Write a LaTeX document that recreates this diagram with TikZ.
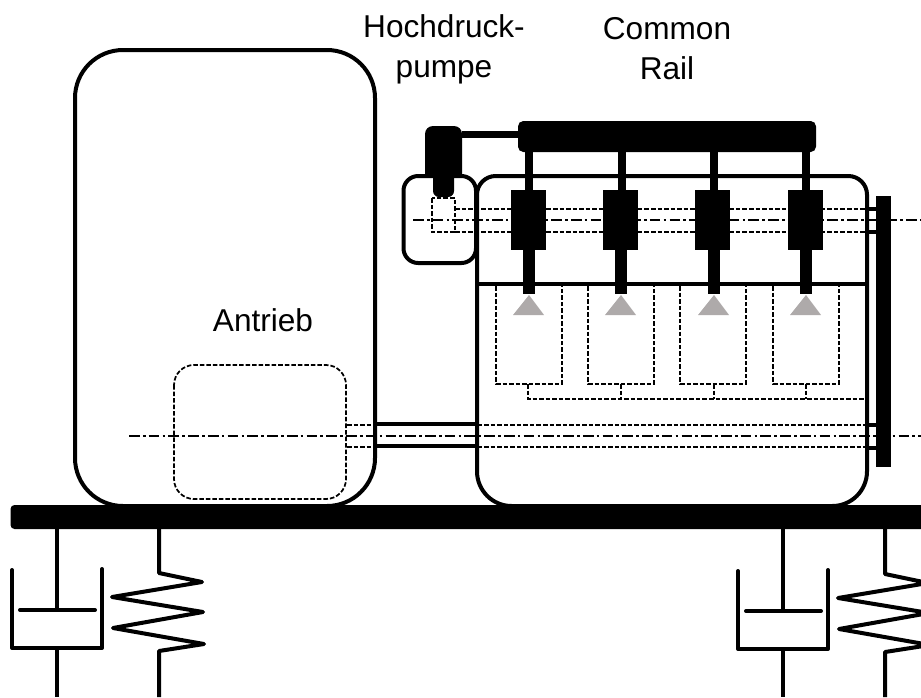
\documentclass[tikz,border=0pt]{standalone}
\usepackage{fontspec}
\setmainfont{Liberation Sans}
\definecolor{nozzle}{HTML}{AEAAAA}
\begin{document}
\begin{tikzpicture}[x=0.75pt,y=-0.75pt,
  wall/.style={line width=3pt},
  pipe/.style={line width=3pt},
  hidden/.style={line width=1.3pt,dash pattern=on 3.4pt off 1.5pt},
  axis/.style={line width=1.3pt,dash pattern=on 8pt off 2.4pt on 2pt off 2.4pt},
  label/.style={font=\fontsize{23.7}{30}\selectfont,align=center}]
\clip (0,0) rectangle (921,697);
\draw (444,49) node[label] (pump){Hochdruck-\\pumpe};
\draw (667,49) node[label] (rail){Common\\Rail};
\draw (263,320) node[label] (drive){Antrieb};
%
\draw [wall,rounded corners=36pt] (75,50) rectangle (375,506);
\draw [hidden,rounded corners=15pt] (174,365) rectangle (346,499);
\draw [wall,rounded corners=11pt] (403.5,176) rectangle (476,263);
\draw [wall] (477,300) [rounded corners=26pt] -- (477,506) -- (867,506) -- (867,300) [rounded corners=14pt] -- (867,176) -- (477,176) -- cycle;
\draw [wall] (477,284) -- (867,284);
%
\draw [hidden] (432,198) rectangle (455,232);
\draw [hidden] (455,209) -- (867,209);
\draw [hidden] (455,232) -- (867,232);
\draw [axis] (413,220) -- (921,220);
\draw [hidden] (347,425) -- (867,425);
\draw [hidden] (347,447) -- (867,447);
\draw [axis] (129,436) -- (921,436);
\draw [wall] (375,424) -- (477,424);
\draw [wall] (375,446) -- (477,446);
\draw [pipe] (867,209) -- (876,209);
\draw [pipe] (867,232) -- (876,232);
\draw [pipe] (867,425) -- (876,425);
\draw [pipe] (867,448) -- (876,448);
\fill (876,196) rectangle (891,467);
%
\draw [hidden] (496,286) -- (496,384) -- (562,384) -- (562,286);
\draw [hidden] (588,286) -- (588,384) -- (654,384) -- (654,286);
\draw [hidden] (680,286) -- (680,384) -- (746,384) -- (746,286);
\draw [hidden] (773,286) -- (773,384) -- (839,384) -- (839,286);
\draw [hidden] (528,384) -- (528,399) -- (866,399);
\draw [hidden] (621,384) -- (621,399);
\draw [hidden] (714,384) -- (714,399);
\draw [hidden] (806,384) -- (806,399);
%
\fill [rounded corners=4pt] (518,121) rectangle (816,152);
\fill [rounded corners=6pt] (425,176) -- (425,126) -- (462,126) [sharp corners] -- (462,176) -- cycle;
\fill [rounded corners=4.5pt] (433,170) -- (433,197) -- (454,197) [sharp corners] -- (454,170) -- cycle;
\fill (462,131) rectangle (518,138);
%
\fill (525,152) rectangle (533,190);
\fill (511,190) rectangle (546,250);
\fill (523,250) rectangle (535,294);
\fill [nozzle] (529,295) -- (544,315) -- (513,315) -- cycle;
%
\fill (618,152) rectangle (626,190);
\fill (603,190) rectangle (638,250);
\fill (615,250) rectangle (627,294);
\fill [nozzle] (621,295) -- (636,315) -- (605,315) -- cycle;
%
\fill (710,152) rectangle (718,190);
\fill (695,190) rectangle (730,250);
\fill (708,250) rectangle (720,294);
\fill [nozzle] (714,295) -- (729,315) -- (698,315) -- cycle;
%
\fill (802,152) rectangle (810,190);
\fill (788,190) rectangle (823,250);
\fill (800,250) rectangle (812,294);
\fill [nozzle] (806,295) -- (821,315) -- (790,315) -- cycle;
%
\fill [rounded corners=3pt] (10.5,505) -- (935,505) -- (935,529) -- (10.5,529) -- cycle;
%
\draw [pipe] (57,529) -- (57,610);
\draw [pipe,line cap=round] (20,610) -- (95,610);
\draw [pipe,line cap=round,line join=round] (12,570) -- (12,648) -- (102,648) -- (102,569);
\draw [pipe] (57,648) -- (57,697);
\draw [pipe,line join=round] (159,529) -- (159,573) -- (202,582) -- (112,597) -- (203,612) -- (113,628) -- (204,644) -- (159,651) -- (159,697);
%
\draw [pipe] (783,529) -- (783,611);
\draw [pipe,line cap=round] (746,611) -- (821,611);
\draw [pipe,line cap=round,line join=round] (738,571) -- (738,649) -- (828,649) -- (828,570);
\draw [pipe] (783,649) -- (783,697);
\draw [pipe,line join=round] (885,529) -- (885,574) -- (928,583) -- (838,598) -- (929,613) -- (839,629) -- (930,645) -- (885,652) -- (885,697);
\end{tikzpicture}
\end{document}
